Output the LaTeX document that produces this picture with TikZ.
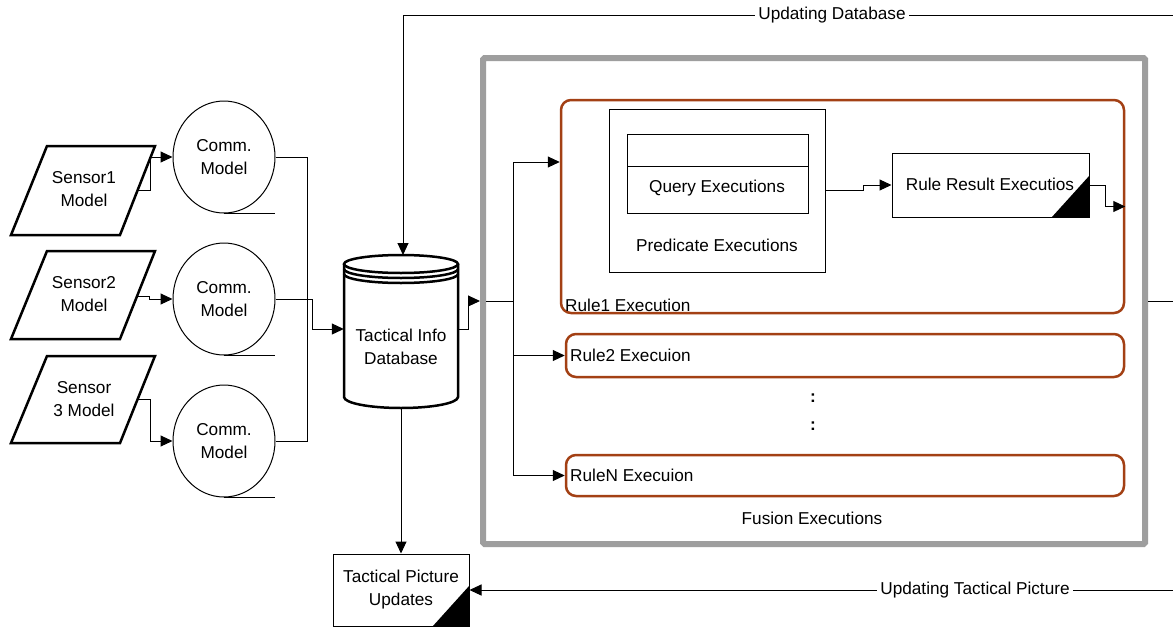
\documentclass[tikz,border=0pt]{standalone}
\usepackage{fontspec}
\setmainfont{Liberation Sans}
\usetikzlibrary{arrows.meta,shapes.geometric}
\definecolor{rulec}{RGB}{163,64,20}
\definecolor{framec}{RGB}{158,158,158}
\begin{document}
\begin{tikzpicture}[x=1pt,y=-1pt,
  txt/.style={font=\fontsize{17.2}{23}\selectfont, align=center, inner sep=0pt},
  conn/.style={line width=1pt},
  arr/.style={conn, -{Triangle[length=12pt,width=11pt]}},
  para/.style={line width=2.5pt, line join=miter},
  cyl/.style={line width=2.5pt},
  comm/.style={ellipse, draw, line width=1pt, minimum width=102pt, minimum height=112pt, inner sep=0pt, align=center, font=\fontsize{17.2}{23}\selectfont},
  box/.style={rectangle, draw, line width=1pt, inner sep=0pt, align=center, font=\fontsize{17.2}{23}\selectfont},
  rulebox/.style={rectangle, draw=rulec, line width=2.5pt, rounded corners=10pt, inner sep=0pt},
  lbl/.style={txt, fill=white, inner sep=3pt},
]
\fill[white] (0,0) rectangle (1173,627);
\useasboundingbox (0,0) rectangle (1173,627);

% fusion frame
\node[rectangle, draw=framec, line width=6pt, rounded corners=1.5pt, minimum width=662pt, minimum height=486pt, inner sep=0pt] (fusion) at (814,301) {};
\node[txt] (fusl) at (812,518) {Fusion Executions};

% sensors
\draw[para] (47,146) -- (155,146) -- (120,235) -- (11,235) -- cycle;
\node[txt] (s1) at (84,189) {Sensor1\\Model};
\coordinate (s1o) at (138,190);
\draw[para] (47,251) -- (155,251) -- (120,339) -- (11,339) -- cycle;
\node[txt] (s2) at (84,294) {Sensor2\\Model};
\coordinate (s2o) at (137,296);
\draw[para] (47,356) -- (155,356) -- (120,443) -- (11,443) -- cycle;
\node[txt] (s3) at (84,399) {Sensor\\3 Model};
\coordinate (s3o) at (138,399);

% comm models
\node[comm] (c1) at (224,157) {Comm.\\Model};
\node[comm] (c2) at (224,299) {Comm.\\Model};
\node[comm] (c3) at (224,441) {Comm.\\Model};
\draw[conn] (c1.south) -- ++(51,0);
\draw[conn] (c2.south) -- ++(51,0);
\draw[conn] (c3.south) -- ++(51,0);

\draw[arr] (s1o) -- (150,190) -- (150,157) -- (c1.west);
\draw[arr] (s2o) -- (149,296) -- (149,299) -- (c2.west);
\draw[arr] (s3o) -- (150,399) -- (150,441) -- (c3.west);

% database
\node[rectangle, minimum width=114pt, minimum height=148pt, inner sep=0pt] (db) at (401,329) {};
\coordinate (dbtop) at (403,255);
\coordinate (dbbot) at (401,408);
\draw[cyl] (344,264) -- (344,397) arc[start angle=180,end angle=0,x radius=57,y radius=11] -- (458,264);
\draw[cyl] (401,264) ellipse[x radius=57,y radius=9];
\draw[cyl] (344,269) arc[start angle=180,end angle=0,x radius=57,y radius=9];
\draw[cyl] (344,274) arc[start angle=180,end angle=0,x radius=57,y radius=9];
\node[txt] (dbl) at (401,347) {Tactical Info\\Database};

\draw[conn] (c1.east) -- (307,157) -- (307,441) -- (c3.east);
\draw[arr] (c2.east) -- (312,299) -- (312,329) -- (db.west);

% top feedback
\coordinate (topR) at (1173,15);
\draw[arr] (topR) -- (403,15) -- (dbtop);
\node[lbl] (ud) at (832,15) {Updating Database};

% tactical picture updates
\node[box, minimum width=136pt, minimum height=72pt] (tpu) at (401,590) {Tactical Picture\\Updates};
\fill (tpu.south east) -- ++(0,-41) -- ++(-37,41) -- cycle;
\draw[arr] (dbbot) -- (tpu.north);
\coordinate (botR) at (1173,590);
\draw[arr] (botR) -- (tpu.east);
\node[lbl] (utp) at (975,590) {Updating Tactical Picture};

% rules
\node[rulebox, minimum width=563pt, minimum height=213pt] (r1) at (842.5,206.5) {};
\node[txt, anchor=west] (r1l) at (565,305) {Rule1 Execution};
\node[rulebox, minimum width=558pt, minimum height=43pt] (r2) at (845,355.5) {};
\node[txt, anchor=west] (r2l) at (570,355) {Rule2 Execuion};
\node[rulebox, minimum width=558pt, minimum height=41pt] (rN) at (845,475.5) {};
\node[txt, anchor=west] (rNl) at (570,475) {RuleN Execuion};
\node[txt] (d1) at (813,398) {\textbf{:}};
\node[txt] (d2) at (813,426) {\textbf{:}};

% predicate / query
\node[box, minimum width=216pt, minimum height=163pt] (pred) at (717,190.5) {};
\node[txt] (predl) at (717,245) {Predicate Executions};
\node[box, minimum width=181pt, minimum height=79pt] (query) at (717.5,173.5) {};
\draw[conn] (627,166) -- (808,166);
\node[txt] (queryl) at (717,188) {Query Executions};

% rule result
\node[box, minimum width=197pt, minimum height=64pt] (rr) at (990.5,185) {};
\node[txt] (rrl) at (990,184) {Rule Result Executios};
\fill (rr.south east) -- ++(0,-42) -- ++(-38,42) -- cycle;
\draw[arr] (pred.east) -- (863,190.5) -- (863,185) -- (rr.west);
\draw[arr] (rr.east) -- (1105,185) -- (1105,206.5) -- (r1.east);

% distribution
\coordinate (split) at (513,301);
\coordinate (j1) at (513,162);
\draw[arr] (db.east) -- (468,329) -- (468,301) -- (fusion.west);
\draw[conn] (486,301) -- (split);
\draw[conn] (j1) -- (split |- rN.west);
\draw[arr] (j1) -- (r1.west |- j1);
\draw[arr] (split |- r2.west) -- (r2.west);
\draw[arr] (split |- rN.west) -- (rN.west);

% output of fusion
\coordinate (midR) at (1173,301);
\draw[conn] (fusion.east) -- (midR);
\end{tikzpicture}
\end{document}
